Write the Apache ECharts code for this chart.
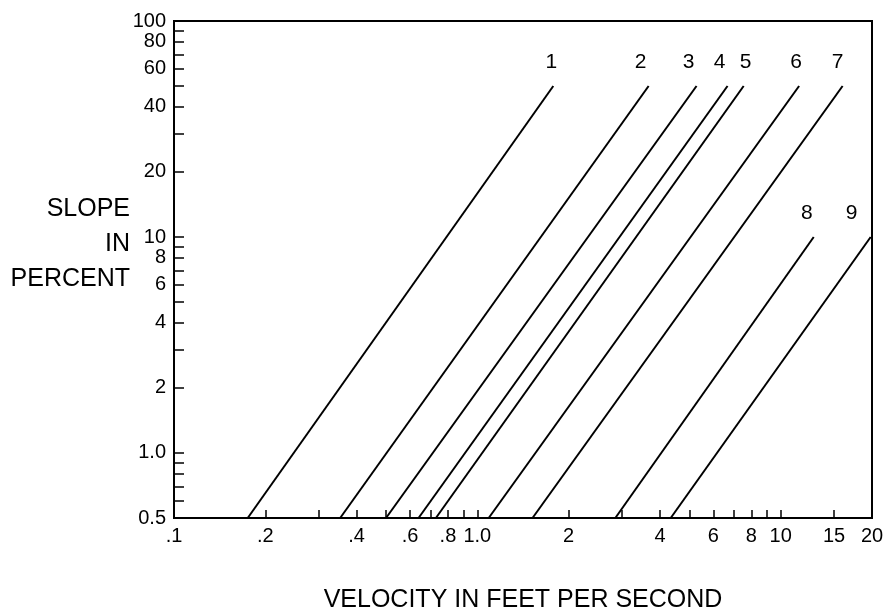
<!DOCTYPE html>
<html>
<head>
<meta charset="utf-8">
<script src="https://cdn.jsdelivr.net/npm/echarts@6/dist/echarts.min.js"></script>
<style>
  html, body { margin: 0; padding: 0; background: #fff; }
  #chart { width: 889px; height: 615px; }
</style>
</head>
<body>
<div id="chart"></div>
<script>
// Curve identifiers and end points (velocity ft/s, slope %)
const curveNames = ['1', '2', '3', '4', '5', '6', '7', '8', '9'];
const velocityLow = [0.175, 0.353, 0.50, 0.64, 0.73, 1.09, 1.52, 2.85, 4.34];
const slopeLow = [0.5, 0.5, 0.5, 0.5, 0.5, 0.5, 0.5, 0.5, 0.5];
const velocityHigh = [1.78, 3.67, 5.28, 6.68, 7.55, 11.5, 16.0, 12.85, 19.8];
const slopeHigh = [50, 50, 50, 50, 50, 50, 50, 10, 10];

// Axis ticks and labels
const xTickValues = [0.2, 0.3, 0.4, 0.5, 0.6, 0.7, 0.8, 0.9, 1, 2, 3, 4, 5, 6, 7, 8, 9, 10, 15];
const xLabelValues = [0.1, 0.2, 0.4, 0.6, 0.8, 1, 2, 4, 6, 8, 10, 15, 20];
const xLabelText = ['.1', '.2', '.4', '.6', '.8', '1.0', '2', '4', '6', '8', '10', '15', '20'];
const yTickValues = [0.6, 0.7, 0.8, 0.9, 1, 2, 3, 4, 5, 6, 7, 8, 9, 10, 20, 30, 40, 50, 60, 70, 80, 90];
const yLabelValues = [0.5, 1, 2, 4, 6, 8, 10, 20, 40, 60, 80, 100];
const yLabelText = ['0.5', '1.0', '2', '4', '6', '8', '10', '20', '40', '60', '80', '100'];

// Y-axis title lines
const yTitleLines = ['SLOPE', 'IN', 'PERCENT'];

// Horizontal nudge of each curve number relative to the curve's upper end
const labelShiftX = [-2, -8, -8, -8, 2, -3, -5, -7, -19];

const FONT = '"Liberation Sans", Arial, Helvetica, sans-serif';

function lookupLabel(values, texts, v) {
  for (let i = 0; i < values.length; i++) {
    if (Math.abs(Math.log10(v) - Math.log10(values[i])) < 1e-6) return texts[i];
  }
  return '';
}

const series = curveNames.map((name, i) => ({
  name: name,
  type: 'line',
  symbol: 'circle',
  symbolSize: 1,
  showSymbol: true,
  silent: true,
  itemStyle: { color: 'rgba(0,0,0,0)' },
  lineStyle: { color: '#000', width: 2 },
  label: { show: false },
  data: [
    { value: [velocityLow[i], slopeLow[i]] },
    {
      value: [velocityHigh[i], slopeHigh[i]],
      label: {
        show: true,
        position: 'top',
        distance: 13,
        offset: [labelShiftX[i], 0],
        formatter: name,
        color: '#000',
        fontFamily: FONT,
        fontSize: 21
      }
    }
  ]
}));

const chart = echarts.init(document.getElementById('chart'), null, { renderer: 'canvas' });
chart.setOption({
  animation: false,
  backgroundColor: '#fff',
  grid: {
    left: 174, right: 17, top: 21, bottom: 97,
    containLabel: false,
    outerBoundsMode: 'none',
    show: true, borderColor: '#000', borderWidth: 2, backgroundColor: 'transparent'
  },
  xAxis: {
    type: 'log',
    logBase: 10,
    min: 0.1,
    max: 20,
    name: 'VELOCITY IN FEET PER SECOND',
    nameLocation: 'middle',
    nameGap: 70,
    nameTextStyle: { color: '#000', fontFamily: FONT, fontSize: 25 },
    axisLine: { show: true, lineStyle: { color: '#000', width: 2 } },
    axisTick: {
      show: true, inside: true, length: 8,
      customValues: xTickValues,
      lineStyle: { color: '#000', width: 1.5 }
    },
    minorTick: { show: false },
    splitLine: { show: false },
    axisLabel: {
      customValues: xLabelValues,
      margin: 8,
      color: '#000',
      fontFamily: FONT,
      fontSize: 20,
      formatter: (v) => lookupLabel(xLabelValues, xLabelText, v)
    }
  },
  yAxis: {
    type: 'log',
    logBase: 10,
    min: 0.5,
    max: 100,
    axisLine: { show: true, lineStyle: { color: '#000', width: 2 } },
    axisTick: {
      show: true, inside: true, length: 10,
      customValues: yTickValues,
      lineStyle: { color: '#000', width: 1.5 }
    },
    minorTick: { show: false },
    splitLine: { show: false },
    axisLabel: {
      customValues: yLabelValues,
      margin: 8,
      color: '#000',
      fontFamily: FONT,
      fontSize: 20,
      formatter: (v) => lookupLabel(yLabelValues, yLabelText, v)
    }
  },
  graphic: yTitleLines.map((t, k) => ({
    type: 'text',
    right: 759,
    top: 197 + k * 35,
    style: {
      text: t,
      fill: '#000',
      font: '25px ' + FONT
    }
  })),
  series: series
});
</script>
</body>
</html>
